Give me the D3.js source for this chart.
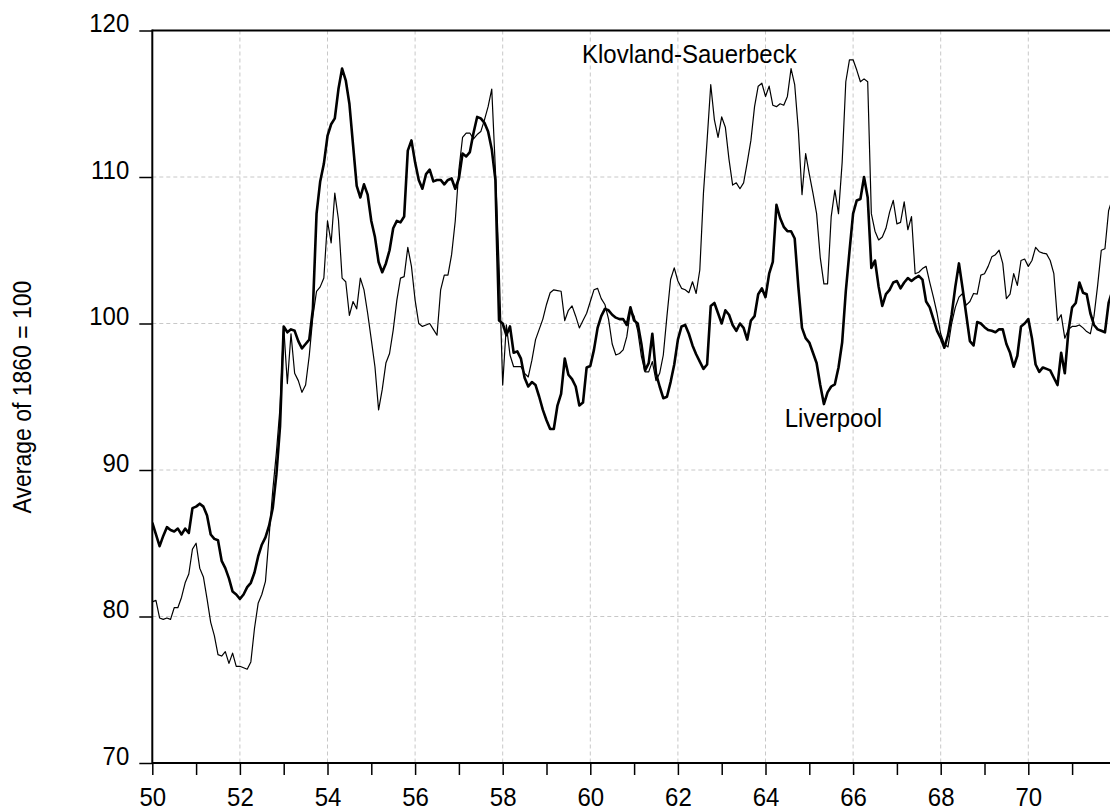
<!DOCTYPE html>
<html lang="en">
    <head>
        <title>Liverpool vs Klovland-Sauerbeck</title>
        <script src="https://d3js.org/d3.v7.min.js"></script>
        <style>
            body { margin: 0; background: #fff; }
            text { font-family: "Liberation Sans", Arial, sans-serif; fill: #000; }
        </style>
    </head>
    <body>
    <div id="mainDiv"></div>

        <script type="text/javascript">
            // monthly series, Jan 1850 onwards (average of 1860 = 100)
            const startYear = 1850

            const liverpool = [
                86.4, 85.6, 84.8, 85.5, 86.1, 85.9, 85.8, 86.0, 85.6, 86.0, 85.7, 87.4,
                87.5, 87.7, 87.5, 86.9, 85.6, 85.3, 85.2, 83.8, 83.3, 82.6, 81.7, 81.5,
                81.2, 81.5, 82.0, 82.3, 83.0, 84.1, 84.9, 85.4, 86.2, 87.4, 89.7, 93.0,
                99.8, 99.4, 99.6, 99.5, 98.8, 98.3, 98.6, 98.9, 101.0, 107.5, 109.7, 110.9,
                112.8, 113.6, 114.0, 116.0, 117.4, 116.6, 115.0, 112.2, 109.4, 108.6, 109.5, 108.8,
                107.0, 105.9, 104.2, 103.5, 104.1, 105.0, 106.5, 107.0, 106.9, 107.3, 111.8, 112.5,
                111.0, 109.8, 109.2, 110.2, 110.5, 109.7, 109.8, 109.8, 109.5, 109.8, 109.9, 109.2,
                109.9, 111.6, 111.4, 111.7, 113.0, 114.1, 114.0, 113.7, 113.1, 111.9, 109.8, 100.2,
                100.0, 99.2, 99.8, 98.0, 98.1, 97.6, 96.3, 95.7, 96.0, 95.8, 95.0, 94.1,
                93.4, 92.8, 92.8, 94.4, 95.2, 97.6, 96.5, 96.2, 95.7, 94.4, 94.6, 97.0,
                97.1, 98.2, 99.7, 100.5, 101.0, 100.9, 100.6, 100.4, 100.3, 100.3, 99.9, 101.1,
                100.2, 100.0, 98.6, 96.8, 97.3, 99.3, 96.6, 95.7, 94.9, 95.0, 96.0, 97.2,
                98.9, 99.8, 99.9, 99.3, 98.5, 97.9, 97.4, 96.9, 97.2, 101.2, 101.4, 100.7,
                100.0, 100.9, 100.6, 99.9, 99.5, 100.0, 99.7, 98.9, 100.2, 100.5, 102.0, 102.4,
                101.8, 103.4, 104.2, 108.1, 107.2, 106.6, 106.3, 106.3, 105.8, 102.5, 99.7, 99.0,
                98.7, 98.0, 97.3, 95.8, 94.5, 95.3, 95.7, 95.85, 97.0, 98.7, 102.2, 104.9,
                107.5, 108.4, 108.5, 110.0, 108.6, 103.8, 104.3, 102.5, 101.2, 102.0, 102.3, 102.8,
                102.9, 102.4, 102.8, 103.1, 102.9, 103.1, 103.25, 103.0, 101.5, 101.1, 100.3, 99.5,
                99.0, 98.35, 99.2, 100.6, 102.5, 104.1, 102.4, 100.6, 98.8, 98.5, 100.1, 100.0,
                99.75, 99.55, 99.5, 99.4, 99.6, 99.6, 98.6, 98.0, 97.05, 97.8, 99.8, 100.0,
                100.3, 99.0, 97.2, 96.7, 97.0, 96.9, 96.8, 96.3, 95.8, 98.0, 96.6, 99.5,
                101.1, 101.4, 102.8, 102.1, 102.0, 100.7, 99.9, 99.6, 99.5, 99.4, 101.4, 102.2
            ]

            const klovland = [
                81.0, 81.1, 79.9, 79.8, 79.9, 79.8, 80.6, 80.6, 81.3, 82.3, 82.9, 84.6,
                85.0, 83.3, 82.7, 81.2, 79.6, 78.7, 77.4, 77.3, 77.6, 76.8, 77.5, 76.6,
                76.6, 76.5, 76.4, 76.9, 79.2, 80.9, 81.5, 82.4, 85.5, 88.6, 91.2, 94.3,
                99.8, 95.9, 99.3, 96.6, 96.1, 95.3, 95.8, 97.8, 100.5, 102.2, 102.5, 103.1,
                107.0, 105.5, 108.9, 107.1, 103.1, 102.85, 100.55, 101.5, 101.0, 103.1, 102.3, 100.7,
                98.9, 97.05, 94.1, 95.5, 97.3, 97.95, 99.55, 101.6, 103.1, 103.2, 105.2, 103.9,
                101.6, 100.0, 99.8, 99.9, 100.0, 99.6, 99.2, 102.3, 103.3, 103.3, 104.7, 107.0,
                110.5, 112.7, 113.0, 113.0, 112.6, 112.9, 113.1, 113.9, 114.8, 116.0, 110.5, 104.0,
                95.8, 99.9, 97.85, 97.05, 97.05, 97.05, 96.6, 96.35, 97.5, 98.9, 99.6, 100.3,
                101.3, 102.1, 102.3, 102.25, 102.2, 100.2, 100.9, 101.2, 100.5, 99.7, 100.2, 100.7,
                101.5, 102.3, 102.4, 101.7, 101.3, 100.3, 98.6, 97.85, 97.95, 98.2, 99.1, 100.9,
                100.5, 99.5, 97.75, 96.7, 96.7, 97.4, 96.1, 96.6, 97.85, 100.5, 103.0, 103.8,
                102.9, 102.4, 102.3, 102.1, 102.85, 102.05, 103.65, 108.9, 112.5, 116.3, 113.9, 112.7,
                114.1, 113.4, 111.2, 109.45, 109.6, 109.2, 109.6, 111.0, 112.5, 114.8, 116.2, 116.4,
                115.5, 116.2, 114.9, 114.8, 115.0, 114.9, 115.5, 117.4, 116.3, 113.2, 108.8, 111.6,
                110.2, 108.9, 107.5, 104.5, 102.7, 102.7, 107.3, 109.1, 107.5, 111.0, 116.5, 118.0,
                118.0, 117.3, 116.5, 116.7, 116.5, 107.5, 106.3, 105.7, 105.9, 106.5, 107.6, 108.4,
                106.8, 106.9, 108.3, 106.4, 107.3, 103.4, 103.5, 103.75, 103.9, 102.8, 101.8, 100.7,
                99.3, 98.6, 98.4, 100.0, 101.1, 101.8, 102.05, 101.25, 101.5, 102.05, 102.0, 103.3,
                103.4, 103.9, 104.55, 104.7, 105.0, 104.1, 101.7, 102.0, 103.4, 102.6, 104.3, 104.4,
                103.9, 104.3, 105.2, 104.9, 104.8, 104.75, 104.3, 103.4, 100.2, 100.6, 99.0, 99.6,
                99.8, 99.8, 99.9, 99.7, 99.45, 99.3, 100.5, 102.6, 105.0, 105.1, 107.7, 108.5
            ]

            const yTicks = [70, 80, 90, 100, 110, 120]
            const yGrid = [80, 90, 100, 110]
            const xTicks = d3.range(1850, 1872)          // one tick per year
            const xGrid = d3.range(1852, 1872, 2)

            const labels = [
                { text: 'Klovland-Sauerbeck', year: 1859.81, value: 117.8 },
                { text: 'Liverpool', year: 1864.44, value: 92.94 }
            ]
            const yTitle = 'Average of 1860 = 100'

            const width = 1110
            const height = 811

            const plot = { left: 152.3, right: 1110, top: 30.5, bottom: 763 }

            const svg = d3.select('#mainDiv').append('svg')
                .attr('width', width)
                .attr('height', height)

            const xScale = d3.scaleLinear()
                .domain([1850, 1870])
                .range([152.3, 1028.3])

            const yScale = d3.scaleLinear()
                .domain([70, 120])
                .range([plot.bottom, plot.top])

            const stretch = 'scale(1,1.1)' // the original type is a bit taller than Arial

            // grid
            const grid = svg.append('g')
                .attr('stroke', '#c8c8c8')
                .attr('stroke-width', 1)
                .attr('stroke-dasharray', '4,3')
            grid.selectAll('.hg').data(yGrid).enter().append('line')
                .attr('x1', plot.left).attr('x2', plot.right)
                .attr('y1', d => yScale(d)).attr('y2', d => yScale(d))
            grid.selectAll('.vg').data(xGrid).enter().append('line')
                .attr('x1', d => xScale(d)).attr('x2', d => xScale(d))
                .attr('y1', plot.top).attr('y2', plot.bottom)

            // series
            const line = d3.line()
                .x((d, i) => xScale(startYear + i / 12))
                .y(d => yScale(d))

            svg.append('clipPath').attr('id', 'plotClip')
                .append('rect')
                .attr('x', plot.left).attr('y', plot.top - 5)
                .attr('width', plot.right - plot.left + 10)
                .attr('height', plot.bottom - plot.top + 5)

            const series = svg.append('g').attr('clip-path', 'url(#plotClip)')
            series.append('path')
                .datum(klovland)
                .attr('fill', 'none')
                .attr('stroke', '#000')
                .attr('stroke-width', 1.2)
                .attr('stroke-linejoin', 'round')
                .attr('d', line)
            series.append('path')
                .datum(liverpool)
                .attr('fill', 'none')
                .attr('stroke', '#000')
                .attr('stroke-width', 2.6)
                .attr('stroke-linejoin', 'round')
                .attr('d', line)

            // axes
            const xAxis = d3.axisBottom(xScale)
                .tickValues(xTicks)
                .tickSize(12)
                .tickSizeOuter(0)
                .tickFormat(d => d % 2 === 0 ? String(d).slice(2) : '')
            const yAxis = d3.axisLeft(yScale)
                .tickValues(yTicks)
                .tickSize(13)
                .tickSizeOuter(0)
                .tickFormat(d3.format('d'))

            const gx = svg.append('g')
                .attr('transform', `translate(0, ${plot.bottom})`)
                .call(xAxis)
            const gy = svg.append('g')
                .attr('transform', `translate(${plot.left}, 0)`)
                .call(yAxis)

            gx.select('.domain').remove()
            gy.select('.domain').remove()
            gx.selectAll('.tick line').attr('stroke', '#000').attr('stroke-width', 1.5)
            gy.selectAll('.tick line').attr('stroke', '#000').attr('stroke-width', 1.5)

            gx.selectAll('.tick text')
                .attr('font-size', 24)
                .attr('font-family', '"Liberation Sans", Arial, sans-serif')
                .attr('dy', null)
                .attr('y', 43 / 1.1)
                .attr('transform', stretch)
            gy.selectAll('.tick text')
                .attr('font-size', 24)
                .attr('font-family', '"Liberation Sans", Arial, sans-serif')
                .attr('dy', null)
                .attr('x', -23)
                .attr('y', 1)
                .attr('transform', stretch)

            // frame
            const frame = svg.append('g').attr('stroke', '#000').attr('stroke-width', 2)
            frame.append('line')
                .attr('x1', plot.left).attr('x2', plot.left)
                .attr('y1', plot.top - 1).attr('y2', plot.bottom + 1)
            frame.append('line')
                .attr('x1', plot.left).attr('x2', plot.right)
                .attr('y1', plot.top).attr('y2', plot.top)
            frame.append('line')
                .attr('x1', plot.left).attr('x2', plot.right)
                .attr('y1', plot.bottom).attr('y2', plot.bottom)

            // series labels
            svg.selectAll('.series-label')
                .data(labels)
                .enter()
                .append('text')
                .attr('class', 'series-label')
                .attr('transform', d => `translate(${xScale(d.year)}, ${yScale(d.value)}) ${stretch}`)
                .attr('font-size', 24)
                .text(d => d.text)

            // y title
            svg.append('text')
                .attr('transform', `translate(31, 397) rotate(-90) ${stretch}`)
                .attr('text-anchor', 'middle')
                .attr('font-size', 23)
                .text(yTitle)
        </script>
    </body>
</html>
